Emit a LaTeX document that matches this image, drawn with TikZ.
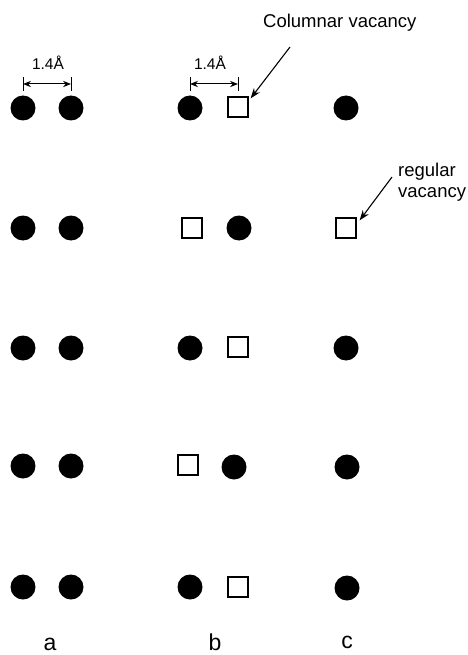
\documentclass[tikz,border=0pt]{standalone}
\usepackage{fontspec}
\setmainfont{Liberation Sans}
\usepackage{tikz}
\usetikzlibrary{arrows.meta,positioning}

\begin{document}
\begin{tikzpicture}[
  x=1pt, y=-1pt,
  font=\fontsize{18.5}{21}\selectfont,
  atom/.style={circle, fill=black, inner sep=0pt, minimum size=25pt},
  vacancy/.style={draw=black, line width=1.3pt, fill=white, inner sep=0pt, minimum size=20pt},
  dimlabel/.style={font=\fontsize{15.5}{17}\selectfont, inner sep=0pt},
  panel/.style={font=\fontsize{23}{25}\selectfont, inner sep=0pt, anchor=base},
  arrow/.style={-{Stealth[length=3.6mm, width=2.6mm]}, line width=1.1pt},
  dim/.style={{Stealth[length=2.8mm, width=2.2mm]}-{Stealth[length=2.8mm, width=2.2mm]}, line width=1pt}
]
\useasboundingbox (0,0) rectangle (467,655);

% column a
\foreach \r/\y in {1/108, 2/228, 3/348, 4/466, 5/587} {
  \node[atom] (a\r l) at (23,\y) {};
  \node[atom] (a\r r) at (71,\y) {};
}

% column b
\node[atom]    (b1l) at (190,108) {};
\node[vacancy] (b1r) at (238,107) {};
\node[vacancy] (b2l) at (192,228) {};
\node[atom]    (b2r) at (239,228) {};
\node[atom]    (b3l) at (190,348) {};
\node[vacancy] (b3r) at (238,347) {};
\node[vacancy] (b4l) at (188,465) {};
\node[atom]    (b4r) at (234,467) {};
\node[atom]    (b5l) at (190,587) {};
\node[vacancy] (b5r) at (238,587) {};

% column c
\node[atom]    (c1) at (346,108) {};
\node[vacancy] (c2) at (346,228) {};
\node[atom]    (c3) at (346,348) {};
\node[atom]    (c4) at (347,467) {};
\node[atom]    (c5) at (347,588) {};

% spacings
\draw[line width=1pt] (a1l.center) ++(0,-31) coordinate (da1) -- ++(0,14);
\draw[line width=1pt] (a1r.center) ++(0,-31) coordinate (da2) -- ++(0,14);
\draw[dim] ([yshift=-7pt]da1) -- ([yshift=-7pt]da2);
\node[dimlabel] (dala) at (48,63) {1.4Å};

\draw[line width=1pt] (b1l.center) ++(0,-31) coordinate (db1) -- ++(0,14);
\draw[line width=1pt] (b1r.center) ++(0,-30) coordinate (db2) -- ++(0,14);
\draw[dim] ([yshift=-7pt]db1) -- ([yshift=-7pt]db2);
\node[dimlabel] (dalb) at (210,63) {1.4Å};

% labels
\node[anchor=west, inner sep=0pt] (colvac) at (263,23) {Columnar vacancy};
\coordinate (colstart) at (290,47);
\draw[arrow] (colstart) -- ([shift={(2pt,-2pt)}]b1r.north east);

\node[anchor=west, align=left, inner sep=0pt] (regvac) at (398,182) {regular\\vacancy};
\coordinate (regstart) at (392,177);
\draw[arrow] (regstart) -- ([shift={(3pt,-3pt)}]c2.north east);

\node[panel] (la) at (50,650) {a};
\node[panel] (lb) at (215,650) {b};
\node[panel] (lc) at (347,648) {c};
\end{tikzpicture}
\end{document}
